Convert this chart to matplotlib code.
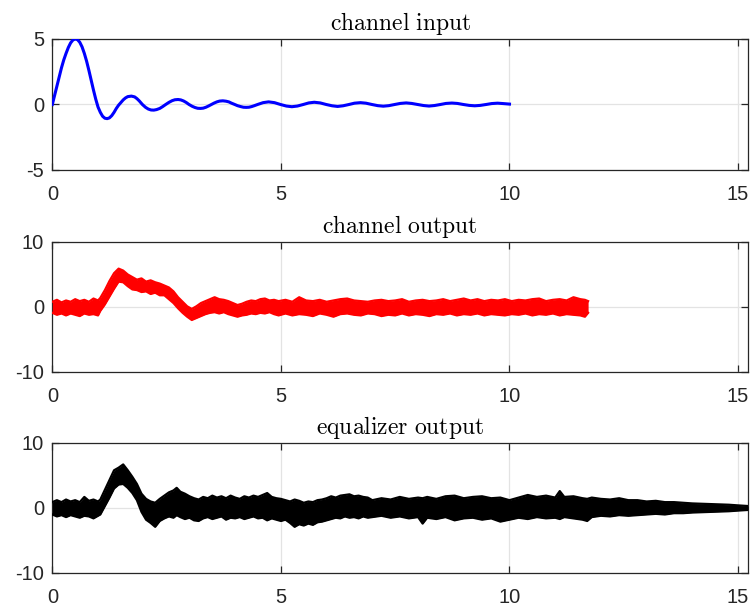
import matplotlib
matplotlib.use("Agg")
import matplotlib.pyplot as plt

plt.rcParams['mathtext.fontset'] = 'cm'
plt.rcParams['font.family'] = ['Liberation Sans', 'DejaVu Sans']

# ---- data ----
titles = ["channel input", "channel output", "equalizer output"]
x_ticks = [0, 5, 10, 15]
y_ticks_in = [-5, 0, 5]
y_ticks_out = [-10, 0, 10]

t_in = [0.0, 0.05, 0.1, 0.15, 0.2, 0.25, 0.3, 0.35, 0.4, 0.45, 0.5, 0.55, 0.6, 0.65,
        0.7, 0.75, 0.8, 0.85, 0.9, 0.95, 1.0, 1.05, 1.1, 1.15, 1.2, 1.25, 1.3, 1.35,
        1.4, 1.45, 1.5, 1.55, 1.6, 1.65, 1.73, 1.8, 1.85, 1.9, 1.97, 2.04, 2.1, 2.16, 2.22,
        2.28, 2.35, 2.41, 2.48, 2.55, 2.62, 2.68, 2.75, 2.81, 2.87, 2.93, 2.99,
        3.06, 3.12, 3.18, 3.24, 3.30, 3.36, 3.42, 3.48, 3.54, 3.6, 3.66, 3.73, 3.8, 3.86, 3.92, 3.99,
        4.05, 4.12, 4.18, 4.24, 4.30, 4.36, 4.42, 4.49,
        4.61, 4.73, 4.86, 4.99, 5.12, 5.24, 5.36, 5.49, 5.61, 5.73, 5.86, 5.99,
        6.12, 6.24, 6.36, 6.49, 6.61, 6.74, 6.86, 6.99, 7.12, 7.24, 7.36, 7.49,
        7.61, 7.74, 7.86, 7.99, 8.12, 8.24, 8.36, 8.49, 8.61, 8.74, 8.86, 8.99,
        9.12, 9.24, 9.36, 9.49, 9.61, 9.74, 9.86, 10.0]
x_in = [0.0, 0.7, 1.4, 2.1, 2.8, 3.4, 3.9, 4.35, 4.7, 4.92, 5.0, 4.95, 4.75, 4.4,
        3.9, 3.3, 2.6, 1.85, 1.1, 0.4, -0.2, -0.6, -0.9, -1.05, -1.08, -1.02, -0.85, -0.6,
        -0.3, -0.05, 0.15, 0.35, 0.5, 0.6, 0.64, 0.58, 0.45, 0.28, 0.0, -0.22, -0.35, -0.42, -0.43,
        -0.39, -0.3, -0.17, 0.0, 0.16, 0.29, 0.36, 0.38, 0.35, 0.27, 0.15, 0.0,
        -0.14, -0.23, -0.29, -0.30, -0.28, -0.21, -0.11, 0.0, 0.11, 0.2, 0.26, 0.28, 0.25, 0.2, 0.1, 0.0,
        -0.09, -0.16, -0.21, -0.22, -0.21, -0.16, -0.09, 0.0,
        0.14, 0.2, 0.14, 0.0, -0.12, -0.17, -0.12, 0.0, 0.12, 0.17, 0.12, 0.0,
        -0.1, -0.15, -0.1, 0.0, 0.1, 0.14, 0.1, 0.0, -0.09, -0.13, -0.09, 0.0,
        0.08, 0.12, 0.08, 0.0, -0.08, -0.12, -0.08, 0.0, 0.08, 0.11, 0.08, 0.0,
        -0.07, -0.1, -0.07, 0.0, 0.07, 0.1, 0.07, 0.03]

t_co = [0.0, 0.1, 0.2, 0.3, 0.4, 0.5, 0.6, 0.7, 0.8, 0.9, 1.0, 1.05, 1.15, 1.25, 1.35,
        1.45, 1.55, 1.65, 1.75, 1.85, 1.95, 2.05, 2.15, 2.25, 2.35, 2.45, 2.55, 2.65,
        2.75, 2.85, 2.95, 3.05, 3.15, 3.25, 3.35, 3.45, 3.55, 3.65, 3.75, 3.85, 3.95,
        4.05, 4.15, 4.25, 4.35, 4.45, 4.55, 4.65, 4.75, 4.85, 4.95, 5.1, 5.25, 5.4,
        5.55, 5.7, 5.85, 6.0, 6.15, 6.3, 6.45, 6.6, 6.75, 6.9, 7.05, 7.2, 7.35, 7.5,
        7.65, 7.8, 7.95, 8.1, 8.25, 8.4, 8.55, 8.7, 8.85, 9.0, 9.15, 9.3, 9.45, 9.6,
        9.75, 9.9, 10.05, 10.2, 10.35, 10.5, 10.65, 10.8, 10.95, 11.1, 11.25, 11.4,
        11.55, 11.65, 11.72]
co_upper = [0.8, 1.1, 0.7, 1.0, 0.8, 1.2, 0.9, 1.1, 0.8, 1.3, 1.0, 1.4, 2.6, 4.0, 5.2,
            5.9, 5.6, 5.0, 4.6, 4.2, 4.4, 3.9, 4.1, 3.8, 3.6, 3.3, 3.0, 2.4,
            1.5, 0.8, 0.1, -0.3, 0.1, 0.6, 0.9, 1.2, 1.5, 1.2, 1.1, 0.9, 0.6,
            0.3, 0.5, 0.8, 1.0, 0.9, 1.2, 1.3, 1.0, 1.1, 0.9, 1.1, 0.8, 1.5,
            1.0, 0.9, 1.1, 0.8, 1.0, 1.2, 1.3, 1.0, 0.9, 0.8, 1.0, 1.1, 0.9, 1.0,
            1.2, 0.8, 1.0, 1.1, 0.9, 1.0, 1.2, 0.9, 1.1, 1.3, 1.0, 1.2, 0.9, 1.1,
            1.0, 1.2, 0.9, 1.1, 1.0, 1.2, 1.3, 0.9, 1.1, 1.2, 1.0, 1.5,
            1.2, 1.1, 0.9]
co_lower = [-0.9, -1.2, -1.0, -1.3, -1.0, -1.2, -1.4, -1.0, -1.2, -1.1, -1.3, -0.6, 0.4, 1.6, 2.8,
            3.9, 3.8, 3.2, 2.7, 2.6, 2.3, 2.4, 2.0, 2.2, 1.8, 1.8, 1.2, 0.6,
            -0.2, -0.9, -1.5, -2.0, -1.7, -1.4, -1.1, -0.9, -0.8, -1.0, -0.8, -1.1, -1.3,
            -1.5, -1.3, -1.2, -1.0, -1.1, -0.9, -1.0, -0.8, -1.1, -1.3, -1.0, -1.3, -1.1,
            -1.2, -1.4, -1.0, -1.2, -1.5, -1.1, -1.0, -1.2, -1.3, -1.0, -1.1, -1.4, -1.2, -1.3,
            -1.0, -1.3, -1.1, -1.2, -1.4, -1.1, -1.2, -1.0, -1.3, -1.1, -1.2, -1.0, -1.3, -1.1,
            -1.2, -1.3, -1.1, -1.2, -1.0, -1.3, -1.1, -1.2, -1.0, -1.3, -1.1, -1.2,
            -1.3, -1.5, -0.9]

t_eq = [0.0, 0.1, 0.2, 0.3, 0.4, 0.5, 0.6, 0.7, 0.8, 0.9, 1.0, 1.05, 1.15, 1.25, 1.35,
        1.45, 1.55, 1.65, 1.75, 1.85, 1.95, 2.05, 2.15, 2.25, 2.35, 2.45, 2.55, 2.65,
        2.72, 2.8, 2.9, 3.0, 3.1, 3.2, 3.3, 3.4, 3.5, 3.6, 3.7, 3.8, 3.9, 4.0, 4.1,
        4.2, 4.3, 4.4, 4.5, 4.6, 4.7, 4.8, 4.9, 5.0, 5.1, 5.2, 5.3, 5.4, 5.5, 5.6,
        5.7, 5.8, 5.9, 6.0, 6.1, 6.2, 6.3, 6.4, 6.5, 6.6, 6.7, 6.8, 6.9, 7.0, 7.2,
        7.4, 7.6, 7.8, 8.0, 8.1, 8.2, 8.4, 8.6, 8.8, 9.0, 9.2, 9.4, 9.6, 9.8, 10.0,
        10.2, 10.4, 10.6, 10.8, 11.0, 11.1, 11.2, 11.4, 11.6, 11.7, 11.8, 12.0, 12.2,
        12.4, 12.6, 12.8, 13.0, 13.2, 13.4, 13.6, 13.8, 14.0, 14.2, 14.4, 14.6, 14.8,
        15.0, 15.22]
eq_upper = [0.9, 1.2, 0.9, 1.3, 1.0, 1.2, 0.9, 1.7, 1.1, 1.3, 1.0, 1.3, 2.8, 4.3, 5.8,
            6.2, 6.7, 5.8, 4.8, 3.7, 2.2, 1.4, 1.0, 0.8, 1.4, 1.9, 2.4, 2.7,
            3.1, 2.5, 2.2, 1.8, 1.5, 1.3, 1.7, 1.5, 1.9, 1.6, 1.8, 1.5, 1.9, 1.6, 1.4,
            1.8, 1.6, 1.9, 1.7, 2.0, 2.3, 1.7, 1.5, 1.4, 1.2, 1.0, 1.3, 1.1, 0.8, 1.0,
            0.9, 1.2, 1.3, 1.5, 1.8, 1.6, 1.9, 2.0, 2.1, 1.8, 1.9, 1.7, 1.6, 1.2, 1.5,
            1.3, 1.7, 1.4, 1.6, 1.5, 1.7, 1.4, 1.8, 1.9, 1.5, 1.7, 1.8, 1.5, 1.6, 1.2,
            1.6, 2.0, 1.7, 1.9, 1.6, 2.6, 1.7, 1.8, 1.5, 1.4, 1.6, 1.4, 1.3,
            1.5, 1.2, 1.2, 1.0, 1.1, 0.9, 0.9, 0.8, 0.7, 0.65, 0.6, 0.55, 0.5,
            0.4, 0.3]
eq_lower = [-1.0, -1.3, -1.1, -1.4, -1.1, -1.3, -1.5, -1.2, -1.3, -1.6, -1.2, -1.0, 0.3, 1.6, 3.0,
            3.6, 3.7, 3.1, 2.3, 1.2, -0.6, -1.8, -2.3, -2.9, -2.0, -1.6, -1.3, -1.5,
            -1.1, -1.4, -1.7, -1.5, -1.9, -2.0, -1.6, -1.4, -1.7, -1.5, -1.3, -1.8, -1.5, -1.6, -1.4,
            -1.7, -1.5, -1.3, -1.6, -1.5, -1.9, -1.6, -1.8, -2.0, -1.8, -2.3, -2.9, -2.5, -2.7, -2.4,
            -2.6, -2.2, -2.1, -1.9, -1.7, -1.5, -1.6, -1.3, -1.5, -1.4, -1.6, -1.3, -1.5, -1.4, -1.2,
            -1.5, -1.3, -1.6, -1.4, -2.4, -1.5, -1.7, -1.4, -1.9, -1.6, -1.5, -1.8, -1.6, -2.1, -1.8,
            -1.5, -1.7, -1.4, -1.6, -1.5, -1.7, -1.4, -1.6, -1.8, -2.0, -1.4, -1.2, -1.3,
            -1.1, -1.2, -1.1, -1.0, -0.9, -1.0, -0.8, -0.8, -0.7, -0.65, -0.6, -0.55, -0.5,
            -0.4, -0.3]

# ---- figure ----
fig = plt.figure(figsize=(7.53, 6.08), dpi=100)
L, W = 0.0695, 0.9240
ax1 = fig.add_axes([L, 0.7204, W, 0.2155])
ax2 = fig.add_axes([L, 0.3882, W, 0.2138])
ax3 = fig.add_axes([L, 0.0576, W, 0.2138])

ax1.plot(t_in, x_in, color='#0000ff', lw=2.2, solid_joinstyle='round', zorder=3)

ax2.fill_between(t_co, co_lower, co_upper, color='#ff0000', lw=0, zorder=3)
ax2.plot(t_co, co_upper, color='#ff0000', lw=1.6, zorder=3)
ax2.plot(t_co, co_lower, color='#ff0000', lw=1.6, zorder=3)

ax3.fill_between(t_eq, eq_lower, eq_upper, color='black', lw=0, zorder=3)
ax3.plot(t_eq, eq_upper, color='black', lw=1.6, zorder=3)
ax3.plot(t_eq, eq_lower, color='black', lw=1.6, zorder=3)

for ax, title, yt in zip([ax1, ax2, ax3], titles, [y_ticks_in, y_ticks_out, y_ticks_out]):
    ax.set_xlim(0, 15.22)
    ax.set_ylim(yt[0], yt[-1])
    ax.set_xticks(x_ticks)
    ax.set_yticks(yt)
    ax.set_yticklabels([str(v) for v in yt])
    ax.grid(True, color='#e3e3e3', lw=0.9, zorder=0)
    ax.set_axisbelow(True)
    for s in ax.spines.values():
        s.set_color('#262626')
        s.set_linewidth(0.9)
    ax.tick_params(direction='in', length=5, width=0.9, color='#262626',
                   labelcolor='#262626', labelsize=14.5, top=True, right=True)
    ax.tick_params(axis='x', pad=11)
    ax.tick_params(axis='y', pad=6)
    ax.set_title(r'$\mathrm{' + title.replace(' ', r'\ ') + '}$', fontsize=17,
                 color='black', pad=6.5)

fig.savefig('out.png', dpi=100)
